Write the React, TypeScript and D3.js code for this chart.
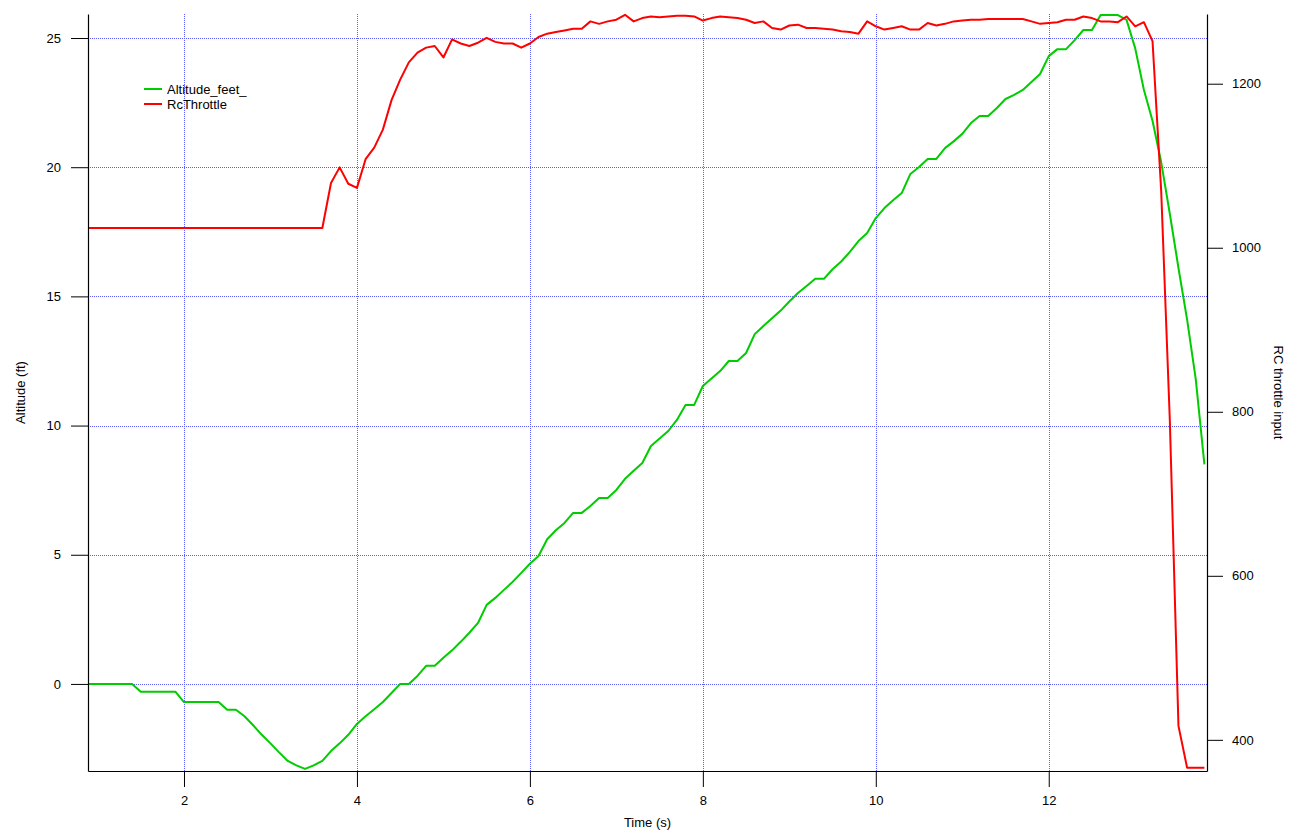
import * as React from "react";
import * as d3 from "d3";

// time stamps (s), one sample per row position
const time = [
	0.9, 1.0, 1.1, 1.2, 1.3, 1.4, 1.5, 1.6, 1.7, 1.8,
	1.9, 2.0, 2.1, 2.2, 2.3, 2.4, 2.5, 2.6, 2.7, 2.8,
	2.9, 3.0, 3.1, 3.2, 3.3, 3.4, 3.5, 3.6, 3.7, 3.8,
	3.9, 4.0, 4.1, 4.2, 4.3, 4.4, 4.5, 4.6, 4.7, 4.8,
	4.9, 5.0, 5.1, 5.2, 5.3, 5.4, 5.5, 5.6, 5.7, 5.8,
	5.9, 6.0, 6.1, 6.2, 6.3, 6.4, 6.5, 6.6, 6.7, 6.8,
	6.9, 7.0, 7.1, 7.2, 7.3, 7.4, 7.5, 7.6, 7.7, 7.8,
	7.9, 8.0, 8.1, 8.2, 8.3, 8.4, 8.5, 8.6, 8.7, 8.8,
	8.9, 9.0, 9.1, 9.2, 9.3, 9.4, 9.5, 9.6, 9.7, 9.8,
	9.9, 10.0, 10.1, 10.2, 10.3, 10.4, 10.5, 10.6, 10.7, 10.8,
	10.9, 11.0, 11.1, 11.2, 11.3, 11.4, 11.5, 11.6, 11.7, 11.8,
	11.9, 12.0, 12.1, 12.2, 12.3, 12.4, 12.5, 12.6, 12.7, 12.8,
	12.9, 13.0, 13.1, 13.2, 13.3, 13.4, 13.5, 13.6, 13.7, 13.8,
];

const altitudeFeet = [
	0, 0, 0, 0, 0, 0, -0.3, -0.3, -0.3, -0.3,
	-0.3, -0.7, -0.7, -0.7, -0.7, -0.7, -1.0, -1.0, -1.25, -1.6,
	-1.97, -2.3, -2.65, -2.98, -3.15, -3.29, -3.15, -2.98, -2.6, -2.3,
	-1.97, -1.55, -1.25, -0.98, -0.7, -0.35, 0, 0, 0.31, 0.7,
	0.7, 1.01, 1.3, 1.63, 1.98, 2.36, 3.06, 3.33, 3.64, 3.95,
	4.3, 4.65, 4.95, 5.6, 5.95, 6.23, 6.62, 6.62, 6.89, 7.2,
	7.2, 7.51, 7.94, 8.25, 8.55, 9.21, 9.5, 9.79, 10.22, 10.8,
	10.8, 11.53, 11.82, 12.11, 12.5, 12.5, 12.81, 13.54, 13.85, 14.15,
	14.45, 14.8, 15.13, 15.4, 15.68, 15.68, 16.05, 16.35, 16.72, 17.14,
	17.45, 18.03, 18.42, 18.72, 19.0, 19.74, 20.01, 20.32, 20.32, 20.74,
	21.0, 21.29, 21.71, 21.98, 21.98, 22.29, 22.64, 22.8, 22.99, 23.3,
	23.61, 24.3, 24.57, 24.57, 24.92, 25.31, 25.31, 25.89, 25.89, 25.89,
	25.7, 24.6, 23.0, 21.8, 20.2, 18.2, 16.1, 14.1, 11.8, 8.5,
];

const rcThrottle = [
	1024, 1024, 1024, 1024, 1024, 1024, 1024, 1024, 1024, 1024,
	1024, 1024, 1024, 1024, 1024, 1024, 1024, 1024, 1024, 1024,
	1024, 1024, 1024, 1024, 1024, 1024, 1024, 1024, 1079, 1098,
	1078, 1073, 1108, 1122, 1144, 1180, 1205, 1226, 1238, 1244,
	1246, 1232, 1254, 1249, 1246, 1250, 1256, 1251, 1249, 1249,
	1244, 1249, 1257, 1261, 1263, 1265, 1267, 1267, 1276, 1273,
	1276, 1278, 1284, 1276, 1280, 1282, 1281, 1282, 1283, 1283,
	1282, 1277, 1280, 1282, 1281, 1280, 1278, 1274, 1276, 1268,
	1266, 1271, 1272, 1268, 1268, 1267, 1266, 1264, 1263, 1261,
	1276, 1270, 1266, 1268, 1270, 1266, 1266, 1274, 1271, 1273,
	1276, 1277, 1278, 1278, 1279, 1279, 1279, 1279, 1279, 1276,
	1273, 1274, 1275, 1278, 1278, 1282, 1280, 1276, 1276, 1275,
	1282, 1270, 1275, 1252, 1070, 790, 417, 366, 366, 366,
];

const timeTicks = [2, 4, 6, 8, 10, 12];
const altitudeTicks = [0, 5, 10, 15, 20, 25];
const throttleTicks = [400, 600, 800, 1000, 1200];
const seriesNames = ["Altitude_feet_", "RcThrottle"];
const seriesColors = ["#00cc00", "#ff0000"];

const viewWidth = 1302;
const viewHeight = 833;
const plotLeft = 88;
const plotRight = 1207;
const plotTop = 14;
const plotBottom = 771;
const gridColor = "#5a5aff";
const font = "'Liberation Sans', Arial, Helvetica, sans-serif";

// snap a coordinate to the pixel centre so 1px lines stay crisp
const crisp = (v: number) => Math.round(v) + 0.5;

export default function App() {
	const xScale = d3.scaleLinear([0.89, 13.83], [plotLeft, plotRight]);
	const yLeft = d3.scaleLinear([-3.37, 25.93], [plotBottom, plotTop]);
	const yRight = d3.scaleLinear([362, 1285], [plotBottom, plotTop]);

	const altLine = d3
		.line<number>()
		.x((_, i) => xScale(time[i]))
		.y((d) => yLeft(d));
	const thrLine = d3
		.line<number>()
		.x((_, i) => xScale(time[i]))
		.y((d) => yRight(d));

	const gxRef = React.useRef<SVGGElement>(null);
	const gyRef = React.useRef<SVGGElement>(null);
	const gy2Ref = React.useRef<SVGGElement>(null);

	React.useEffect(() => {
		d3.select(gxRef.current!)
			.call(
				d3
					.axisBottom(xScale)
					.tickValues(timeTicks)
					.tickSize(16)
					.tickSizeOuter(0)
					.tickPadding(9)
					.tickFormat(d3.format("d"))
			)
			.attr("font-size", null)
			.attr("font-family", null);
		d3.select(gyRef.current!)
			.call(
				d3
					.axisLeft(yLeft)
					.tickValues(altitudeTicks)
					.tickSize(17)
					.tickSizeOuter(0)
					.tickPadding(10)
					.tickFormat(d3.format("d"))
			)
			.attr("font-size", null)
			.attr("font-family", null);
		d3.select(gy2Ref.current!)
			.call(
				d3
					.axisRight(yRight)
					.tickValues(throttleTicks)
					.tickSize(16)
					.tickSizeOuter(0)
					.tickPadding(9)
					.tickFormat(d3.format("d"))
			)
			.attr("font-size", null)
			.attr("font-family", null);
		d3.selectAll(".domain").attr("stroke-width", 1.2);
	}, []);

	return (
		<svg
			width={viewWidth}
			height={viewHeight}
			viewBox={`0 0 ${viewWidth} ${viewHeight}`}
			fontFamily={font}
			fontSize={13}
			style={{ position: "absolute", left: 0, top: 0, background: "white" }}
		>
			<g>
				{timeTicks.map((t) => (
					<line
						key={`gx${t}`}
						x1={crisp(xScale(t))}
						x2={crisp(xScale(t))}
						y1={plotTop}
						y2={plotBottom}
						stroke={gridColor}
						strokeDasharray="1,1"
					/>
				))}
				{altitudeTicks.map((v) => (
					<line
						key={`gy${v}`}
						x1={plotLeft}
						x2={plotRight}
						y1={crisp(yLeft(v))}
						y2={crisp(yLeft(v))}
						stroke={gridColor}
						strokeDasharray="1,1"
					/>
				))}
			</g>
			<path
				d={altLine(altitudeFeet) || ""}
				fill="none"
				stroke={seriesColors[0]}
				strokeWidth={2}
				strokeLinejoin="round"
			/>
			<path
				d={thrLine(rcThrottle) || ""}
				fill="none"
				stroke={seriesColors[1]}
				strokeWidth={2}
				strokeLinejoin="round"
			/>
			<g ref={gxRef} transform={`translate(0 ${plotBottom})`} />
			<g ref={gyRef} transform={`translate(${plotLeft} 0)`} />
			<g ref={gy2Ref} transform={`translate(${plotRight} 0)`} />

			<text x={(plotLeft + plotRight) / 2} y={827} textAnchor="middle">
				Time (s)
			</text>
			<text
				transform={`translate(20 ${(plotTop + plotBottom) / 2}) rotate(-90)`}
				textAnchor="middle"
				dominantBaseline="central"
			>
				Altitude (ft)
			</text>
			<text
				transform={`translate(1278 ${(plotTop + plotBottom) / 2}) rotate(90)`}
				textAnchor="middle"
				dominantBaseline="central"
			>
				RC throttle input
			</text>

			<g transform="translate(144 89)">
				{seriesNames.map((name, i) => (
					<g key={name} transform={`translate(0 ${i * 15})`}>
						<line x1={0} x2={18} y1={0} y2={0} stroke={seriesColors[i]} strokeWidth={2} />
						<text x={23} y={0} dominantBaseline="central">
							{name}
						</text>
					</g>
				))}
			</g>
		</svg>
	);
}
